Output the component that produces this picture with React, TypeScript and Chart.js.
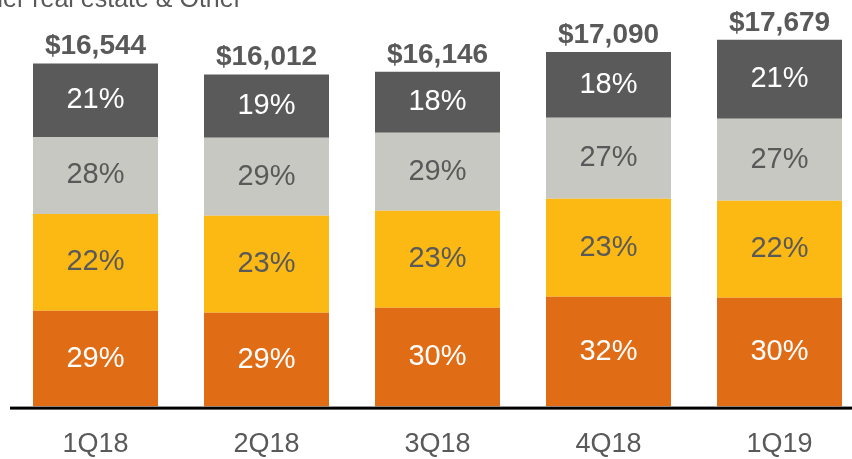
import React, { useEffect, useRef } from "react";
import { Chart, registerables } from "chart.js";

Chart.register(...registerables);

const categories = ["1Q18", "2Q18", "3Q18", "4Q18", "1Q19"];
const totals = [16544, 16012, 16146, 17090, 17679];

// segment values ($), bottom to top
const segOrange = [4620, 4528, 4769, 5299, 5251];
const segYellow = [4670, 4672, 4672, 4721, 4672];
const segLight = [3710, 3757, 3757, 3902, 3950];
const segDark = [3544, 3055, 2948, 3168, 3806];

// percentage labels as printed
const pctOrange = [29, 29, 30, 32, 30];
const pctYellow = [22, 23, 23, 23, 22];
const pctLight = [28, 29, 29, 27, 27];
const pctDark = [21, 19, 18, 18, 21];

const legendText = "Other real estate & Other";

const FONT = "'Liberation Sans', Arial, sans-serif";
const TEXT_GRAY = "#595959";

export default function App() {
  const ref = useRef<HTMLCanvasElement | null>(null);

  useEffect(() => {
    if (!ref.current) return;
    const pctSets = [pctOrange, pctYellow, pctLight, pctDark];
    const pctColors = ["#ffffff", TEXT_GRAY, TEXT_GRAY, "#ffffff"];

    const labelPlugin = {
      id: "labels",
      afterDatasetsDraw(chart: any) {
        const ctx = chart.ctx;
        ctx.save();
        // percentage labels
        ctx.font = `29px ${FONT}`;
        ctx.textAlign = "center";
        ctx.textBaseline = "middle";
        chart.data.datasets.forEach((_: any, di: number) => {
          const meta = chart.getDatasetMeta(di);
          meta.data.forEach((el: any, i: number) => {
            ctx.fillStyle = pctColors[di];
            ctx.fillText(pctSets[di][i] + "%", el.x, (el.y + el.base) / 2);
          });
        });
        // totals
        const topMeta = chart.getDatasetMeta(chart.data.datasets.length - 1);
        ctx.font = `bold 28px ${FONT}`;
        ctx.textBaseline = "alphabetic";
        ctx.fillStyle = TEXT_GRAY;
        topMeta.data.forEach((el: any, i: number) => {
          ctx.fillText("$" + totals[i].toLocaleString("en-US"), el.x, el.y - 9);
        });
        // axis line
        const area = chart.chartArea;
        ctx.fillStyle = "#000000";
        ctx.fillRect(area.left, area.bottom, chart.width - area.left, 3);
        // clipped legend text
        ctx.font = `25px ${FONT}`;
        ctx.textAlign = "right";
        ctx.fillStyle = TEXT_GRAY;
        ctx.fillText(legendText, 242, 7);
        ctx.restore();
      },
    };

    const chart = new Chart(ref.current, {
      type: "bar",
      data: {
        labels: categories,
        datasets: [
          { label: "Segment 1", data: segOrange, backgroundColor: "#E06C15" },
          { label: "Segment 2", data: segYellow, backgroundColor: "#FDB913" },
          { label: "Segment 3", data: segLight, backgroundColor: "#C8C8C3" },
          { label: "Other real estate & Other", data: segDark, backgroundColor: "#5A5A5A" },
        ],
      },
      options: {
        animation: false,
        responsive: true,
        maintainAspectRatio: false,
        layout: { padding: { left: 10, right: 1, top: 0, bottom: 0 } },
        datasets: {
          bar: { barPercentage: 1, categoryPercentage: 125 / 171 },
        },
        plugins: {
          legend: { display: false },
          tooltip: { enabled: false },
        },
        scales: {
          x: {
            stacked: true,
            grid: { display: false, drawTicks: false },
            border: { display: false },
            ticks: {
              color: TEXT_GRAY,
              font: { family: FONT, size: 27 },
              padding: 22,
            },
          },
          y: {
            stacked: true,
            display: false,
            min: 0,
            max: 19600,
          },
        },
      },
      plugins: [labelPlugin],
    });
    return () => chart.destroy();
  }, []);

  return (
    <div
      style={{
        position: "fixed",
        left: 0,
        top: 0,
        width: 852,
        height: 459,
        overflow: "hidden",
        background: "#ffffff",
      }}
    >
      <div style={{ position: "relative", width: 866, height: 483 }}>
        <canvas ref={ref} />
      </div>
    </div>
  );
}
